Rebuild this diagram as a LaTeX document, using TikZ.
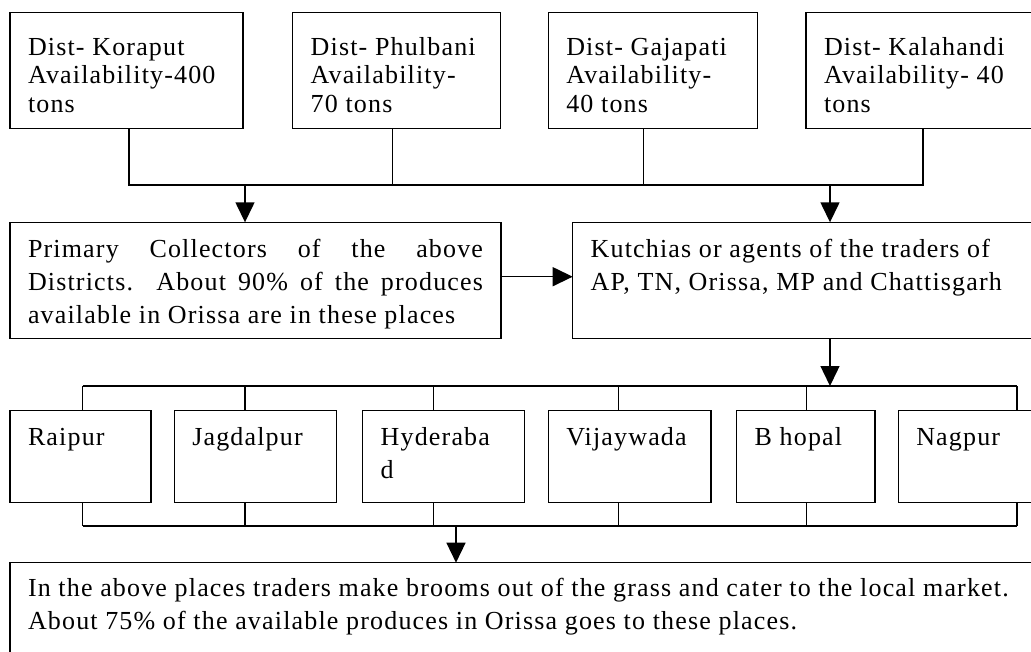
\documentclass[tikz,border=0pt]{standalone}
\usepackage{fontspec}
\setmainfont{Liberation Serif}[LetterSpace=4.5]
\usetikzlibrary{arrows.meta}
\newcommand{\cell}[4]{\parbox[c][#2][t]{#1}{\rule{0pt}{#3}#4}}

\begin{document}
\begin{tikzpicture}[
        x=1pt,
        y=-1pt,
        line width=1.4pt,
        >={Triangle[length=20pt, width=19pt]},
        every node/.style={font=\fontsize{26}{33}\selectfont},
        box/.style={draw, anchor=north west, inner xsep=18pt, inner ysep=0pt, outer sep=0pt},
        head/.style={box, font=\fontsize{26}{28.5}\selectfont}
    ]
    \useasboundingbox (0,0) rectangle (1031,651);
    \clip (0,0) rectangle (1031,651);

    \node[head] (kor) at (10,12.3) {\cell{197pt}{116pt}{42.7pt}{Dist- Koraput\\Availability-400\\tons}};
    \node[head] (phu) at (292.7,12.3) {\cell{172pt}{116pt}{42.7pt}{Dist- Phulbani\\Availability-\\70 tons}};
    \node[head] (gaj) at (548.3,12.3) {\cell{173pt}{116pt}{42.7pt}{Dist- Gajapati\\Availability-\\40 tons}};
    \node[head] (kal) at (806,12.3) {\cell{198pt}{116pt}{42.7pt}{Dist- Kalahandi\\Availability- 40\\tons}};

    \node[box] (prim) at (10,222.3) {\cell{455pt}{116pt}{34.7pt}{Primary Collectors of the above\linebreak
            Districts. About 90\% of the produces\linebreak available in Orissa are in these places}};
    \node[box] (kut) at (572.7,222.3) {\cell{478.6pt}{116pt}{34.7pt}{Kutchias or agents of the traders of\\AP, TN, Orissa, MP and Chattisgarh}};

    \node[box] (rai) at (10,410.7) {\cell{105pt}{92pt}{34.3pt}{Raipur}};
    \node[box] (jag) at (174.3,410.7) {\cell{126.4pt}{92pt}{34.3pt}{Jagdalpur}};
    \node[box] (hyd) at (362.7,410.7) {\cell{126pt}{92pt}{34.3pt}{Hyderaba\\d}};
    \node[box] (vij) at (548.3,410.7) {\cell{126.7pt}{92pt}{34.3pt}{Vijaywada}};
    \node[box] (bho) at (736.7,410.7) {\cell{102.3pt}{92pt}{34.3pt}{B hopal}};
    \node[box] (nag) at (898.3,410.7) {\cell{201pt}{92pt}{34.3pt}{Nagpur}};

    \node[box] (mkt) at (10,562.7) {\cell{1100pt}{150pt}{34pt}{In the above places traders make brooms out of the grass and cater to the local market.\\
            About 75\% of the available produces in Orissa goes to these places.}};

    \coordinate (tbus) at (0,185);
    \coordinate (cbus) at (0,386);
    \coordinate (bbus) at (0,526);

    \draw ([xshift=2.5pt]kor.south) |- (kal.south |- tbus) -- (kal.south);
    \draw ([xshift=-4pt]phu.south) -- ([xshift=-4pt]phu.south |- tbus);
    \draw ([xshift=-9.4pt]gaj.south) -- ([xshift=-9.4pt]gaj.south |- tbus);
    \draw[->] ([xshift=-10.5pt]prim.north |- tbus) -- ([xshift=-10.5pt]prim.north);
    \draw[->] (kut.north |- tbus) -- (kut.north);

    \draw[->] ([yshift=3.6pt]prim.east) -- ([yshift=3.6pt]prim.east -| kut.west);
    \draw[->] (kut.south) -- (kut.south |- cbus);

    \draw ([xshift=2.2pt]rai.north |- cbus) -- (nag.north |- cbus);
    \draw ([xshift=2.2pt]rai.south |- bbus) -- (nag.south |- bbus);
    \foreach \n/\s in {rai/2.2, jag/-10.5, hyd/-10.4, vij/-11, bho/0.8, nag/0} {
        \draw ([xshift=\s pt]\n.north |- cbus) -- ([xshift=\s pt]\n.north);
        \draw ([xshift=\s pt]\n.south) -- ([xshift=\s pt]\n.south |- bbus);
    }
    \draw[->] ([xshift=12.3pt]hyd.south |- bbus) -- ([xshift=446pt]mkt.north west);
\end{tikzpicture}
\end{document}
